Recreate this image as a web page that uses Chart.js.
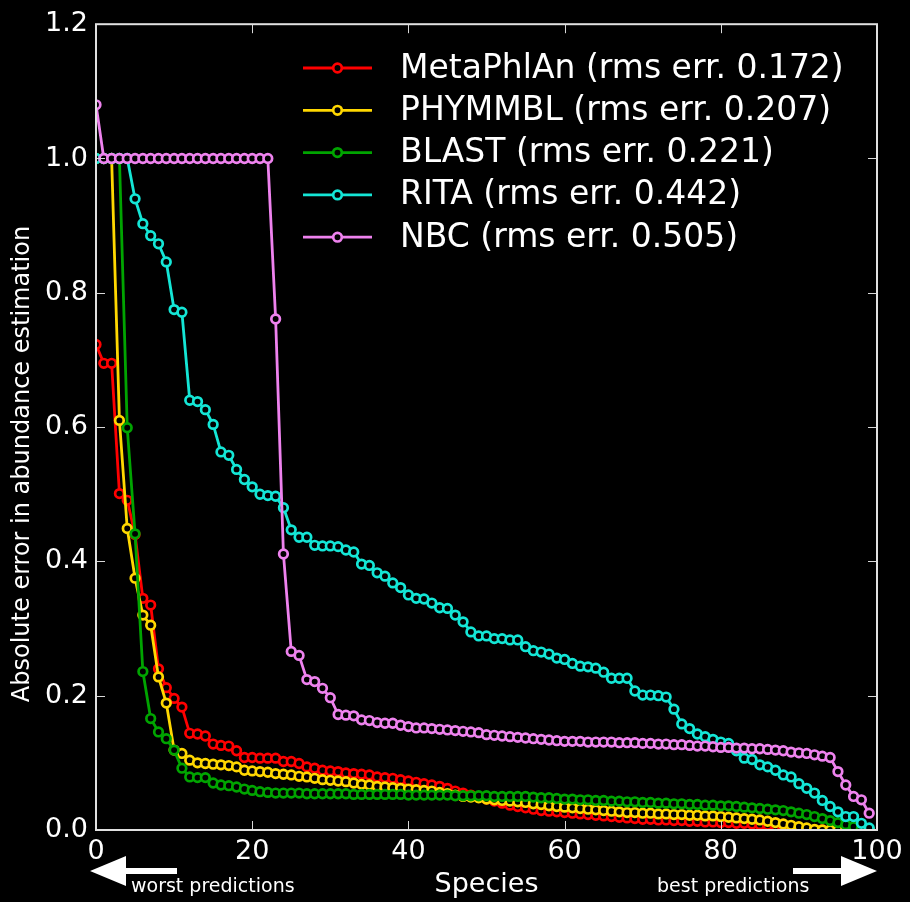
<!DOCTYPE html>
<html>
<head>
<meta charset="utf-8">
<script src="https://cdn.jsdelivr.net/npm/chart.js@4.4.1/dist/chart.umd.min.js"></script>
<style>
  html, body { margin: 0; padding: 0; background: #000; }
  #wrap { width: 910px; height: 902px; }
</style>
</head>
<body>
<div id="wrap"><canvas id="chart" width="910" height="902"></canvas></div>
<script>
// species rank (sorted from worst to best prediction)
const species = Array.from({ length: 100 }, (_, i) => i);

const xTicks = [0, 20, 40, 60, 80, 100];
const yTicks = [0, 0.2, 0.4, 0.6, 0.8, 1.0, 1.2];

const metaphlan = [
  0.723, 0.695, 0.695, 0.501, 0.491, 0.44, 0.345, 0.335, 0.24, 0.212,
  0.196, 0.183, 0.144, 0.143, 0.14, 0.128, 0.126, 0.125, 0.118, 0.108,
  0.108, 0.107, 0.107, 0.107, 0.102, 0.102, 0.099, 0.094, 0.092, 0.089,
  0.088, 0.087, 0.085, 0.084, 0.083, 0.082, 0.079, 0.078, 0.077, 0.075,
  0.073, 0.071, 0.069, 0.067, 0.065, 0.062, 0.058, 0.055, 0.052, 0.049,
  0.046, 0.043, 0.040, 0.037, 0.035, 0.033, 0.031, 0.029, 0.028, 0.027,
  0.026, 0.025, 0.024, 0.023, 0.022, 0.021, 0.020, 0.019, 0.018, 0.017,
  0.016, 0.016, 0.015, 0.015, 0.014, 0.014, 0.013, 0.013, 0.012, 0.012,
  0.011, 0.011, 0.010, 0.010, 0.009, 0.008, 0.007, 0.006, 0.005, 0.003,
  0.002, 0.001, 0, 0, 0, 0, 0, 0, 0, 0
];
const phymmbl = [
  1, 1, 1, 0.61, 0.449, 0.375, 0.32, 0.305, 0.228, 0.189,
  0.119, 0.114, 0.104, 0.1, 0.099, 0.098, 0.097, 0.096, 0.094, 0.089,
  0.088, 0.087, 0.086, 0.084, 0.083, 0.082, 0.08, 0.079, 0.077, 0.075,
  0.074, 0.073, 0.072, 0.07, 0.068, 0.067, 0.065, 0.064, 0.063, 0.062,
  0.061, 0.06, 0.059, 0.058, 0.056, 0.054, 0.052, 0.050, 0.049, 0.048,
  0.046, 0.045, 0.044, 0.043, 0.042, 0.041, 0.039, 0.038, 0.036, 0.035,
  0.034, 0.033, 0.032, 0.031, 0.030, 0.029, 0.028, 0.027, 0.026, 0.026,
  0.025, 0.025, 0.024, 0.024, 0.023, 0.023, 0.022, 0.022, 0.021, 0.021,
  0.020, 0.019, 0.018, 0.017, 0.016, 0.015, 0.013, 0.011, 0.009, 0.007,
  0.005, 0.003, 0.001, 0, 0, 0, 0, 0, 0, 0
];
const blast = [
  1, 1, 1, 1, 0.599, 0.441, 0.236, 0.166, 0.146, 0.136,
  0.119, 0.092, 0.079, 0.078, 0.078, 0.07, 0.067, 0.066, 0.064, 0.061,
  0.059, 0.057, 0.056, 0.055, 0.055, 0.055, 0.055, 0.054, 0.054, 0.054,
  0.054, 0.054, 0.054, 0.053, 0.053, 0.053, 0.053, 0.053, 0.053, 0.053,
  0.052, 0.052, 0.052, 0.052, 0.052, 0.052, 0.051, 0.051, 0.051, 0.051,
  0.051, 0.050, 0.050, 0.050, 0.050, 0.050, 0.049, 0.048, 0.048, 0.047,
  0.046, 0.046, 0.045, 0.045, 0.044, 0.044, 0.043, 0.043, 0.042, 0.042,
  0.041, 0.041, 0.040, 0.040, 0.039, 0.039, 0.038, 0.038, 0.037, 0.037,
  0.036, 0.036, 0.035, 0.034, 0.033, 0.032, 0.031, 0.030, 0.029, 0.027,
  0.025, 0.023, 0.020, 0.017, 0.014, 0.011, 0.008, 0.005, 0.002, 0
];
const rita = [
  1, 1, 1, 1, 1, 0.94, 0.903, 0.885, 0.873, 0.846,
  0.775, 0.771, 0.64, 0.638, 0.626, 0.604, 0.563, 0.558, 0.537, 0.522,
  0.511, 0.5, 0.498, 0.497, 0.48, 0.447, 0.436, 0.436, 0.424, 0.423,
  0.423, 0.422, 0.417, 0.414, 0.396, 0.394, 0.383, 0.378, 0.368, 0.361,
  0.35, 0.345, 0.344, 0.338, 0.331, 0.33, 0.32, 0.31, 0.295, 0.289,
  0.289, 0.285, 0.285, 0.283, 0.283, 0.273, 0.267, 0.265, 0.262, 0.256,
  0.254, 0.248, 0.244, 0.243, 0.241, 0.235, 0.226, 0.226, 0.226, 0.207,
  0.201, 0.201, 0.2, 0.198, 0.18, 0.158, 0.151, 0.143, 0.139, 0.135,
  0.131, 0.129, 0.118, 0.107, 0.105, 0.097, 0.094, 0.089, 0.082, 0.079,
  0.069, 0.062, 0.055, 0.044, 0.035, 0.027, 0.02, 0.02, 0.01, 0.003
];
const nbc = [
  1.08, 1, 1, 1, 1, 1, 1, 1, 1, 1,
  1, 1, 1, 1, 1, 1, 1, 1, 1, 1,
  1, 1, 1, 0.761, 0.411, 0.266, 0.26, 0.224, 0.221, 0.211,
  0.197, 0.172, 0.171, 0.17, 0.164, 0.163, 0.16, 0.159, 0.159, 0.156,
  0.154, 0.152, 0.152, 0.151, 0.15, 0.149, 0.148, 0.147, 0.146, 0.145,
  0.142, 0.141, 0.14, 0.139, 0.138, 0.137, 0.136, 0.135, 0.134, 0.133,
  0.132, 0.132, 0.132, 0.131, 0.131, 0.131, 0.131, 0.130, 0.130, 0.130,
  0.129, 0.129, 0.128, 0.128, 0.127, 0.127, 0.126, 0.125, 0.125, 0.124,
  0.123, 0.123, 0.122, 0.122, 0.121, 0.121, 0.120, 0.119, 0.118, 0.116,
  0.115, 0.114, 0.112, 0.110, 0.108, 0.087, 0.067, 0.05, 0.045, 0.025
];

const seriesNames = [
  'MetaPhlAn (rms err. 0.172)',
  'PHYMMBL (rms err. 0.207)',
  'BLAST (rms err. 0.221)',
  'RITA (rms err. 0.442)',
  'NBC (rms err. 0.505)'
];
const seriesValues = [metaphlan, phymmbl, blast, rita, nbc];
const seriesColors = ['#ff0000', '#ffd700', '#00a400', '#14e6d6', '#ee82ee'];

const FONT = "'DejaVu Sans', 'Liberation Sans', sans-serif";
const MARK_R = 4.3;
const MARK_W = 2.7;

const datasets = seriesValues.map((vals, k) => ({
  label: seriesNames[k],
  data: vals.map((v, i) => ({ x: species[i], y: v })),
  borderColor: seriesColors[k],
  borderWidth: 2.8,
  pointRadius: MARK_R,
  pointBorderWidth: MARK_W,
  pointBorderColor: seriesColors[k],
  pointBackgroundColor: '#000',
  tension: 0,
  clip: 0,
  order: seriesValues.length - k // last series drawn on top
}));

// frame with inward ticks on all sides, like the original
const framePlugin = {
  id: 'frame',
  afterDatasetsDraw(chart) {
    const { ctx, chartArea: a, scales: { x, y } } = chart;
    ctx.save();
    ctx.strokeStyle = '#d8d8d8';
    ctx.lineWidth = 1;
    xTicks.forEach(t => {
      const px = Math.round(x.getPixelForValue(t)) + 0.5;
      ctx.beginPath();
      ctx.moveTo(px, a.bottom); ctx.lineTo(px, a.bottom - 9);
      ctx.moveTo(px, a.top); ctx.lineTo(px, a.top + 9);
      ctx.stroke();
    });
    yTicks.forEach(t => {
      const py = Math.round(y.getPixelForValue(t)) + 0.5;
      ctx.beginPath();
      ctx.moveTo(a.left, py); ctx.lineTo(a.left + 9, py);
      ctx.moveTo(a.right, py); ctx.lineTo(a.right - 9, py);
      ctx.stroke();
    });
    ctx.strokeStyle = '#e0e0e0';
    ctx.lineWidth = 2;
    ctx.strokeRect(a.left, a.top, a.right - a.left, a.bottom - a.top);
    ctx.restore();
  }
};

// legend inside the top right of the plot, no box
const legendPlugin = {
  id: 'insideLegend',
  afterDraw(chart) {
    const ctx = chart.ctx;
    ctx.save();
    ctx.font = '33px ' + FONT;
    ctx.textBaseline = 'middle';
    seriesNames.forEach((name, k) => {
      const yy = 68 + k * 42.3;
      ctx.strokeStyle = seriesColors[k];
      ctx.lineWidth = 2.8;
      ctx.beginPath();
      ctx.moveTo(303, yy); ctx.lineTo(372, yy);
      ctx.stroke();
      ctx.beginPath();
      ctx.arc(337.5, yy, MARK_R, 0, Math.PI * 2);
      ctx.fillStyle = '#000';
      ctx.fill();
      ctx.lineWidth = MARK_W;
      ctx.stroke();
      ctx.fillStyle = '#fff';
      ctx.fillText(name, 400, yy + 1);
    });
    ctx.restore();
  }
};

// y title and the worst/best arrows below the x axis
const annotPlugin = {
  id: 'annot',
  afterDraw(chart) {
    const ctx = chart.ctx;
    ctx.save();
    ctx.fillStyle = '#fff';
    ctx.font = '24px ' + FONT;
    ctx.textAlign = 'center';
    ctx.textBaseline = 'middle';
    ctx.translate(23, 464);
    ctx.rotate(-Math.PI / 2);
    ctx.fillText('Absolute error in abundance estimation', 0, 0);
    ctx.restore();

    ctx.save();
    ctx.fillStyle = '#fff';
    const ay = 871;
    // left arrow
    ctx.beginPath();
    ctx.moveTo(90, ay);
    ctx.lineTo(126, ay - 15);
    ctx.lineTo(126, ay - 3);
    ctx.lineTo(177, ay - 3);
    ctx.lineTo(177, ay + 3);
    ctx.lineTo(126, ay + 3);
    ctx.lineTo(126, ay + 15);
    ctx.closePath();
    ctx.fill();
    // right arrow
    ctx.beginPath();
    ctx.moveTo(877, ay);
    ctx.lineTo(841, ay - 15);
    ctx.lineTo(841, ay - 3);
    ctx.lineTo(793, ay - 3);
    ctx.lineTo(793, ay + 3);
    ctx.lineTo(841, ay + 3);
    ctx.lineTo(841, ay + 15);
    ctx.closePath();
    ctx.fill();

    ctx.font = '19px ' + FONT;
    ctx.textBaseline = 'middle';
    ctx.textAlign = 'left';
    ctx.fillText('worst predictions', 131, 887);
    ctx.fillText('best predictions', 657, 887);
    ctx.restore();
  }
};

new Chart(document.getElementById('chart'), {
  type: 'line',
  data: { datasets },
  options: {
    responsive: false,
    devicePixelRatio: 1,
    animation: false,
    layout: { padding: { top: 22, right: 33, left: 0, bottom: 0 } },
    plugins: {
      legend: { display: false },
      tooltip: { enabled: false }
    },
    scales: {
      x: {
        type: 'linear',
        min: 0,
        max: 100,
        afterBuildTicks: s => { s.ticks = xTicks.map(v => ({ value: v })); },
        afterFit: s => { s.height = 72; },
        grid: { display: false, drawTicks: false },
        border: { display: false },
        ticks: {
          color: '#fff',
          font: { family: FONT, size: 27 },
          padding: 6,
          maxRotation: 0
        },
        title: {
          display: true,
          text: 'Species',
          color: '#fff',
          font: { family: FONT, size: 27 },
          padding: { top: 0, bottom: 1 }
        }
      },
      y: {
        min: 0,
        max: 1.2,
        afterBuildTicks: s => { s.ticks = yTicks.map(v => ({ value: v })); },
        afterFit: s => { s.width = 96; },
        grid: { display: false, drawTicks: false },
        border: { display: false },
        ticks: {
          color: '#fff',
          font: { family: FONT, size: 27 },
          padding: 8,
          callback: v => v.toFixed(1)
        }
      }
    }
  },
  plugins: [framePlugin, legendPlugin, annotPlugin]
});
</script>
</body>
</html>
